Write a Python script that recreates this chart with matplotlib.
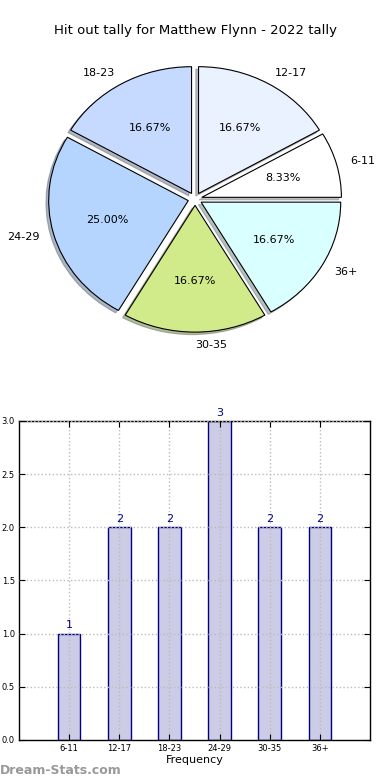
import matplotlib
matplotlib.use("Agg")
import matplotlib.pyplot as plt

categories = ["6-11", "12-17", "18-23", "24-29", "30-35", "36+"]
counts = [1, 2, 2, 3, 2, 2]
pie_colors = ["#FFFFFF", "#EAF1FF", "#C6D9FF", "#B5D5FF", "#D1EB8A", "#D9FFFF"]
title = "Hit out tally for Matthew Flynn - 2022 tally"
yticks = [0.0, 0.5, 1.0, 1.5, 2.0, 2.5, 3.0]

fig = plt.figure(figsize=(3.9, 7.8), dpi=100)

# Pie
ax1 = fig.add_axes([0.0526, 0.5417, 0.895, 0.4064])
wedges, texts, autotexts = ax1.pie(
    counts, labels=categories, colors=pie_colors, autopct="%1.2f%%",
    explode=[0.05] * len(counts), shadow=dict(ox=-0.014, oy=-0.014, shade=0.5),
    startangle=0,
    wedgeprops=dict(edgecolor="black", linewidth=0.8),
    textprops=dict(fontsize=8))
ax1.set_aspect("auto")
ax1.set_xlim(-1.25, 1.25)
ax1.set_ylim(-1.25, 1.25)
fig.text(0.5, 0.961, title, ha="center", va="center", fontsize=9.5)

# Bar chart
ax2 = fig.add_axes([0.0487, 0.0513, 0.9, 0.409])
x = list(range(len(categories)))
bars = ax2.bar(x, counts, width=0.45, color="#CCCCE6", edgecolor="#000080",
               linewidth=1.0, zorder=2)
for xi, c in zip(x, counts):
    ax2.text(xi, c + 0.03, str(c), ha="center", va="bottom", color="#000080",
             fontsize=8)
ax2.set_xlim(-1, 6)
ax2.set_ylim(0, 3.0)
ax2.set_xticks(x)
ax2.set_xticklabels(categories, fontsize=6)
ax2.set_yticks(yticks)
ax2.set_yticklabels([f"{v:.1f}" for v in yticks], fontsize=6)
ax2.tick_params(direction="in", top=True, right=True, length=4, pad=3)
ax2.grid(True, linestyle=":", color="#BBBBBB", linewidth=1.0, zorder=3)
ax2.set_axisbelow(False)
ax2.set_xlabel("Frequency", fontsize=8, labelpad=1)
for s in ax2.spines.values():
    s.set_linewidth(1.0)

fig.text(0.0, 0.012, "Dream-Stats.com", ha="left", va="center", fontsize=9,
         color="#999999", fontweight="bold")

fig.savefig("out.png", dpi=100)
